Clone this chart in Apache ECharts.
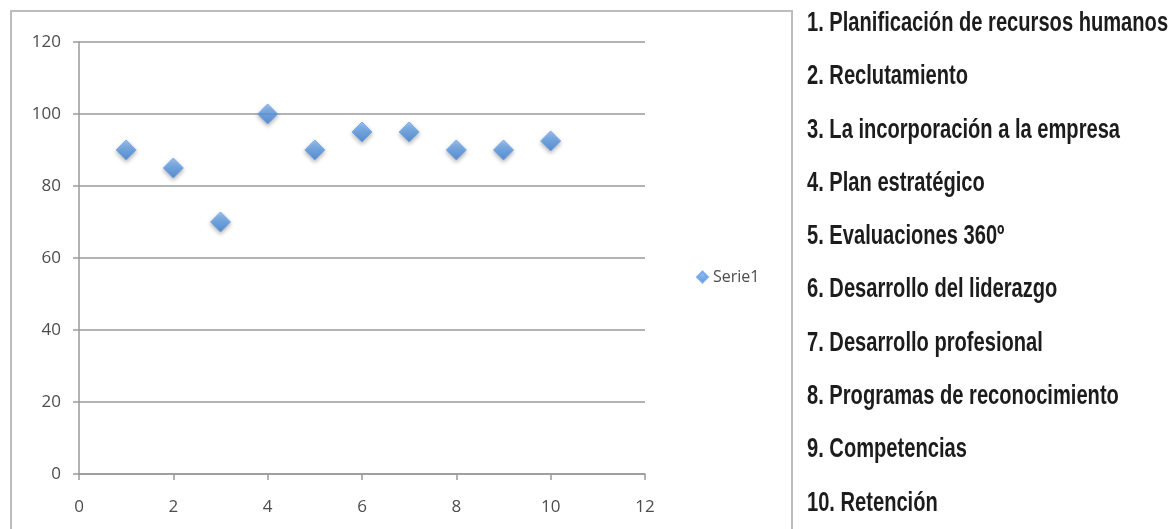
<!DOCTYPE html>
<html>
<head>
<meta charset="utf-8">
<script src="https://cdn.jsdelivr.net/npm/echarts@6/dist/echarts.min.js"></script>
<style>
html,body{margin:0;padding:0;background:#fff;}
#c{width:1176px;height:529px;}
</style>
</head>
<body>
<div id="c"></div>
<script>
const xValues = [1, 2, 3, 4, 5, 6, 7, 8, 9, 10];
const serie1 = [90, 85, 70, 100, 90, 95, 95, 90, 90, 92.5];
const seriesName = 'Serie1';
const itemLabels = [
  '1. Planificación de recursos humanos',
  '2. Reclutamiento',
  '3. La incorporación a la empresa',
  '4. Plan estratégico',
  '5. Evaluaciones 360º',
  '6. Desarrollo del liderazgo',
  '7. Desarrollo profesional',
  '8. Programas de reconocimiento',
  '9. Competencias',
  '10. Retención'
];

const chart = echarts.init(document.getElementById('c'), null, {renderer: 'canvas'});
const axisFont = '"Open Sans", "DejaVu Sans", sans-serif';
const listFont = '"Liberation Sans", Arial, sans-serif';

const graphics = [{
  type: 'rect',
  shape: {x: 11, y: 11, width: 781, height: 540},
  style: {fill: 'none', stroke: '#bdbdbd', lineWidth: 2},
  silent: true
}];
itemLabels.forEach(function (t, i) {
  graphics.push({
    type: 'text',
    x: 807,
    y: 10 + i * 53.3,
    scaleX: 0.745,
    scaleY: 1,
    style: {text: t, font: 'bold 27px ' + listFont, fill: '#1c1c1c', textVerticalAlign: 'top', verticalAlign: 'top'}
  });
});

chart.setOption({
  animation: false,
  backgroundColor: '#ffffff',
  grid: {left: 79, top: 42, right: 531, bottom: 55, containLabel: false},
  legend: {
    data: [{name: seriesName, icon: 'diamond'}],
    left: 691, top: 264,
    itemWidth: 11, itemHeight: 11, itemGap: 4,
    textStyle: {color: '#4d4d4d', fontSize: 16, fontFamily: axisFont}
  },
  xAxis: {
    type: 'value', min: 0, max: 12, interval: 2,
    axisLine: {show: true, lineStyle: {color: '#9a9a9a', width: 1.5}},
    axisTick: {show: true, length: 6, inside: false, lineStyle: {color: '#9a9a9a', width: 1.5}},
    splitLine: {show: false},
    axisLabel: {color: '#4d4d4d', fontSize: 17, fontFamily: axisFont, margin: 25}
  },
  yAxis: {
    type: 'value', min: 0, max: 120, interval: 20,
    axisLine: {show: true, lineStyle: {color: '#9a9a9a', width: 1.5}},
    axisTick: {show: true, length: 6, lineStyle: {color: '#9a9a9a', width: 1.5}},
    splitLine: {show: true, lineStyle: {color: '#9a9a9a', width: 1.5}},
    axisLabel: {color: '#4d4d4d', fontSize: 17, fontFamily: axisFont, margin: 18}
  },
  series: [{
    name: seriesName,
    type: 'scatter',
    symbol: 'diamond',
    symbolSize: 20,
    data: xValues.map(function (x, i) { return [x, serie1[i]]; }),
    itemStyle: {
      color: new echarts.graphic.LinearGradient(0, 0, 0, 1, [
        {offset: 0, color: '#8dbcf2'},
        {offset: 0.5, color: '#5b9be6'},
        {offset: 1, color: '#3f7fd2'}
      ]),
      borderColor: '#6aa3e6',
      borderWidth: 1,
      shadowBlur: 4,
      shadowColor: 'rgba(0,0,0,0.35)',
      shadowOffsetY: 2
    }
  }],
  graphic: graphics
});
</script>
</body>
</html>
